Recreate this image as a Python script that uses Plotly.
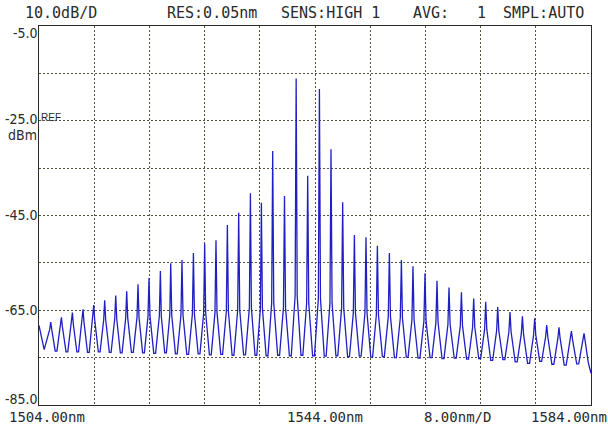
import plotly.graph_objects as go

# ---- data (OSA spectrum, frequency comb) ----
peak_nm = [1505.70, 1507.25, 1508.84, 1510.38, 1511.93, 1513.52, 1515.12, 1516.71,
           1518.35, 1519.94, 1521.59, 1523.09, 1524.72, 1526.38, 1528.01, 1529.65,
           1531.30, 1532.94, 1534.64, 1536.23, 1537.87, 1539.58, 1541.27, 1542.94,
           1544.64, 1546.32, 1548.01, 1549.71, 1551.39, 1553.04, 1554.78, 1556.52,
           1558.20, 1559.94, 1561.68, 1563.42, 1565.22, 1567.00, 1568.74, 1570.48,
           1572.26, 1574.06, 1575.84, 1577.58, 1579.36, 1581.16, 1582.99]
peak_dbm = [-67.5, -66.5, -65.5, -64.8, -63.9, -62.9, -61.9, -61.0, -59.5, -58.2,
            -56.7, -55.1, -54.4, -52.9, -50.9, -50.2, -47.0, -44.4, -40.3, -42.3,
            -31.4, -40.9, -16.1, -36.6, -18.3, -31.0, -42.2, -49.1, -49.6, -51.4,
            -52.9, -54.4, -55.7, -57.2, -58.8, -60.2, -61.2, -62.5, -63.2, -64.3,
            -65.4, -66.3, -66.7, -68.1, -68.6, -69.4, -69.9]
shoulder_dbm = [-69.0, -68.5, -68.0, -67.5, -67.0, -67.0, -66.8, -66.6, -66.5, -66.3,
                -66.2, -66.0, -66.0, -65.8, -65.6, -65.5, -65.2, -65.0, -64.5, -64.6,
                -63.5, -64.5, -62.0, -63.5, -62.5, -63.5, -64.5, -65.5, -65.6, -66.0,
                -66.3, -66.6, -67.0, -67.3, -67.6, -68.0, -68.3, -68.6, -69.0, -69.3,
                -69.6, -70.0, -70.2, -70.6, -70.9, -71.2, -71.5]
valley_dbm = [-73.6, -73.8, -73.8, -73.9, -73.8, -73.9, -74.0, -73.9, -74.0, -74.1, -74.0,
              -74.2, -74.3, -74.2, -74.4, -74.3, -74.5, -74.4, -74.5, -74.6, -74.5, -74.6,
              -74.5, -74.6, -74.7, -74.6, -74.8, -74.7, -74.9, -74.8, -75.0, -74.9, -75.1,
              -75.0, -75.2, -75.1, -75.3, -75.2, -75.6, -75.4, -75.9, -76.2, -75.8, -76.4,
              -76.6, -76.3]
edge_nm = [1504.00, 1504.75, 1583.60, 1584.00]
edge_dbm = [-68.2, -73.3, -76.0, -78.3]

y_tick_labels = ["-5.0", "-25.0", "-45.0", "-65.0", "-85.0"]
x_labels = ["1504.00nm", "1544.00nm", "8.00nm/D", "1584.00nm"]
header = ["10.0dB/D", "RES:0.05nm", "SENS:HIGH 1", "AVG:", "1", "SMPL:AUTO"]

# ---- build the trace polyline from the read levels ----
n = len(peak_nm)
xs = [edge_nm[0], edge_nm[1]]
ys = [edge_dbm[0], edge_dbm[1]]
for i in range(n):
    p = peak_nm[i]
    dl = p - peak_nm[i - 1] if i > 0 else peak_nm[1] - peak_nm[0]
    dr = peak_nm[i + 1] - p if i < n - 1 else p - peak_nm[i - 1]
    sh = min(shoulder_dbm[i], peak_dbm[i])
    xs += [p - 0.09 * dl, p, p + 0.09 * dr]
    ys += [sh, peak_dbm[i], sh]
    if i < n - 1:
        mid = p + dr / 2
        xs += [mid - 0.08 * dr, mid + 0.08 * dr]
        ys += [valley_dbm[i], valley_dbm[i]]
xs += [edge_nm[2], edge_nm[3]]
ys += [edge_dbm[2], edge_dbm[3]]

fig = go.Figure(go.Scatter(x=xs, y=ys, mode="lines",
                           line=dict(color="#1f1fc4", width=1.3),
                           hoverinfo="skip"))

W, H = 608, 429
L, R, T, B = 39, 17, 26, 24
PW, PH = W - L - R, H - T - B


def fx(px):
    return (px - L) / PW


def fy(py):
    return 1 - (py - T) / PH


mono = "DejaVu Sans Mono, Liberation Mono, monospace"
sans = "Liberation Sans Narrow, DejaVu Sans Condensed, Liberation Sans, Arial"
tc = "#2a2a2a"
ann = []


def add(text, px, py, xanchor, family, size):
    ann.append(dict(text=text, x=fx(px), y=fy(py), xref="paper", yref="paper",
                    xanchor=xanchor, yanchor="middle", showarrow=False, borderpad=0,
                    font=dict(family=family, size=size, color=tc)))


# header
hdr_pos = [24, 166, 280, 412, 476, 502]
for t, px in zip(header, hdr_pos):
    add(t, px, 13, "left", mono, 15)
# y labels
y_pos = [33, 119, 215, 310, 398.5]
for t, py in zip(y_tick_labels, y_pos):
    add(t, 38.5, py, "right", sans, 14)
add("REF", 40, 117.5, "left", "Liberation Sans, Arial", 10)
add("dBm", 38, 135, "right", sans, 14)
# x labels
x_pos = [7.5, 286, 423, 530]
for t, px in zip(x_labels, x_pos):
    add(t, px, 416.5, "left", mono, 14)

grid = dict(showgrid=True, gridcolor="#5a5040", gridwidth=1, griddash="2px,2px",
            showline=True, mirror=True, linecolor="#2a2a2a", linewidth=1.3,
            zeroline=False, showticklabels=False, ticks="")
fig.update_layout(
    width=W, height=H,
    margin=dict(l=L, r=R, t=T, b=B, pad=0),
    paper_bgcolor="white", plot_bgcolor="white",
    showlegend=False,
    xaxis=dict(range=[1504, 1584], dtick=8, tick0=1504, **grid),
    yaxis=dict(range=[-85, -5], dtick=10, tick0=-5, **grid),
    annotations=ann,
)
fig.write_html("out.html", config={"displayModeBar": False},
               post_script="document.body.style.margin='0';document.body.style.overflow='hidden';")
